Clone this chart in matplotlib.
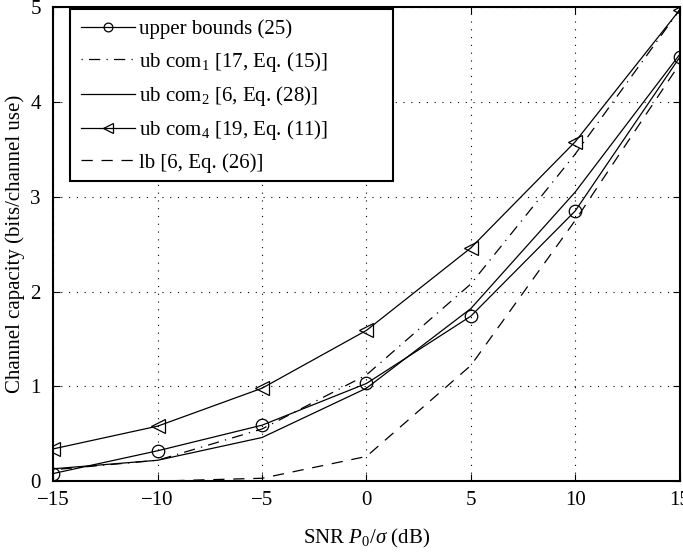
import numpy as np
import matplotlib
matplotlib.use("Agg")
import matplotlib.pyplot as plt
from matplotlib.patches import Rectangle

plt.rcParams['font.family'] = ['Liberation Serif', 'DejaVu Serif']
plt.rcParams['mathtext.fontset'] = 'custom'
plt.rcParams['mathtext.rm'] = 'Liberation Serif'
plt.rcParams['mathtext.it'] = 'Liberation Serif:italic'

snr = [-15, -10, -5, 0, 5, 10, 15]
upper_bounds = [0.08, 0.32, 0.59, 1.03, 1.74, 2.85, 4.47]
ub_com1 = [0.12, 0.22, 0.55, 1.12, 2.08, 3.45, 4.97]
ub_com2 = [0.13, 0.22, 0.46, 0.98, 1.82, 3.05, 4.50]
ub_com4 = [0.34, 0.58, 0.98, 1.59, 2.46, 3.58, 4.97]
lb = [0.0, 0.0, 0.03, 0.26, 1.22, 2.75, 4.40]

fig = plt.figure(figsize=(6.83, 5.53), dpi=100)
ax = fig.add_axes([0.078, 0.130, 0.917, 0.857])

lw = 0.9
ax.plot(snr, upper_bounds, '-', color='k', lw=lw, marker='o', ms=9, mfc='none', mew=0.9,
        label='upper bounds (25)')
ax.plot(snr, ub_com1, color='k', lw=lw, dashes=[1, 5, 9, 5],
        label='ub com$_1$ [17, Eq. (15)]')
ax.plot(snr, ub_com2, '-', color='k', lw=lw, label='ub com$_2$ [6, Eq. (28)]')
ax.plot(snr, ub_com4, '-', color='k', lw=lw, marker='<', ms=10, mfc='none', mew=0.9,
        label='ub com$_4$ [19, Eq. (11)]')
ax.plot(snr, lb, color='k', lw=lw, dashes=[9, 7], label='lb [6, Eq. (26)]')

ax.set_xlim(-15, 15)
ax.set_ylim(0, 5)
ax.set_xticks([-15, -10, -5, 0, 5, 10, 15])
ax.set_xticklabels(['\u221215', '\u221210', '\u22125', '0', '5', '10', '15'])
ax.set_yticks([0, 1, 2, 3, 4, 5])
ax.grid(True, color='k', linestyle=(0, (1, 6)), linewidth=0.8)
ax.tick_params(direction='in', labelsize=15, length=5, top=True, right=True)
ax.tick_params(axis='x', pad=7)
ax.tick_params(axis='y', pad=9)
for s in ax.spines.values():
    s.set_linewidth(1.5)

ax.set_xlabel('SNR $P_0/\\sigma$ (dB)', fontsize=15, labelpad=12)
ax.set_ylabel('Channel capacity (bits/channel use)', fontsize=15, labelpad=4)

# MATLAB-style legend box (wider than its entries)
box = Rectangle((0.027, 0.633), 0.515, 0.363, transform=ax.transAxes,
                facecolor='white', edgecolor='k', linewidth=1.5, zorder=4.5)
ax.add_patch(box)
leg = ax.legend(loc='upper left', bbox_to_anchor=(0.027, 0.996), borderaxespad=0,
                fontsize=15, frameon=True, fancybox=False,
                edgecolor='none', facecolor='none', labelspacing=0.5,
                handlelength=2.6, handletextpad=0.2, borderpad=0.5, markerscale=0.7)
leg.set_zorder(5)

fig.savefig('out.png', dpi=100)
